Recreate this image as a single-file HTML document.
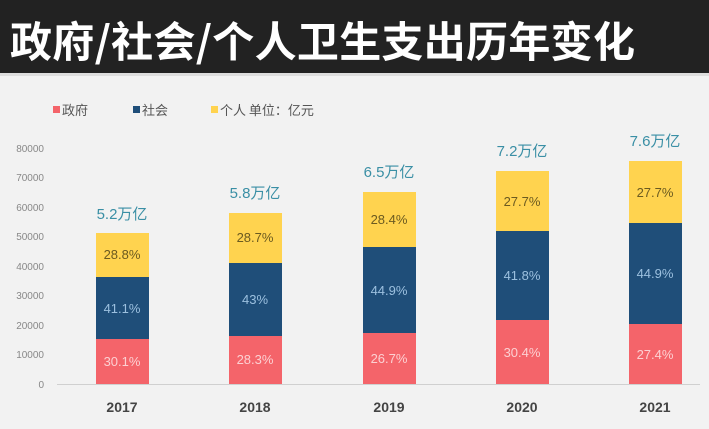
<!DOCTYPE html>
<html><head><meta charset="utf-8"><style>
body{margin:0;width:709px;height:424px;background:#f2f2f2;overflow:hidden;font-family:"Liberation Sans","Noto Sans CJK SC",sans-serif;}
</style></head><body>
<svg width="709" height="424" xmlns="http://www.w3.org/2000/svg" font-family="Liberation Sans, Noto Sans CJK SC, sans-serif">
<rect x="0" y="0" width="709" height="73" fill="#222"/>
<rect x="0" y="73" width="709" height="3" fill="#ddd"/>
<text x="10" y="57" font-size="42" fill="#fff" font-weight="bold" textLength="625" lengthAdjust="spacing" font-family="Noto Sans CJK SC, sans-serif">政府/社会/个人卫生支出历年变化</text>
<g font-size="13" fill="#555" font-family="Noto Sans CJK SC, sans-serif">
<rect x="53" y="106" width="7" height="7" fill="#f4646a"/><text x="62" y="115">政府</text>
<rect x="133" y="106" width="7" height="7" fill="#1f4e79"/><text x="142" y="115">社会</text>
<rect x="211" y="106" width="7" height="7" fill="#ffd34f"/><text x="220" y="115">个人 单位：亿元</text>
</g>
<g font-size="10" fill="#888" text-anchor="end">
<text x="44" y="388">0</text><text x="44" y="358">10000</text><text x="44" y="329">20000</text><text x="44" y="299">30000</text><text x="44" y="270">40000</text><text x="44" y="240">50000</text><text x="44" y="211">60000</text><text x="44" y="181">70000</text><text x="44" y="152">80000</text>
</g>
<line x1="57" y1="384.5" x2="700" y2="384.5" stroke="#d0d0d0"/>
<g font-size="13" text-anchor="middle">
<rect x="96" y="233" width="53" height="44" fill="#ffd34f"/><rect x="96" y="277" width="53" height="62" fill="#1f4e79"/><rect x="96" y="339" width="53" height="45" fill="#f4646a"/>
<text x="122" y="259" fill="#6b5a20">28.8%</text><text x="122" y="313" fill="#9cc0df">41.1%</text><text x="122" y="366" fill="#fcd0d2">30.1%</text>
<text x="122" y="219" fill="#3a8fa5" font-size="15">5.2万亿</text><text x="122" y="412" fill="#444" font-size="14" font-weight="bold">2017</text>
<rect x="229" y="213" width="53" height="50" fill="#ffd34f"/><rect x="229" y="263" width="53" height="73" fill="#1f4e79"/><rect x="229" y="336" width="53" height="48" fill="#f4646a"/>
<text x="255" y="242" fill="#6b5a20">28.7%</text><text x="255" y="304" fill="#9cc0df">43%</text><text x="255" y="364" fill="#fcd0d2">28.3%</text>
<text x="255" y="198" fill="#3a8fa5" font-size="15">5.8万亿</text><text x="255" y="412" fill="#444" font-size="14" font-weight="bold">2018</text>
<rect x="363" y="192" width="53" height="55" fill="#ffd34f"/><rect x="363" y="247" width="53" height="86" fill="#1f4e79"/><rect x="363" y="333" width="53" height="51" fill="#f4646a"/>
<text x="389" y="224" fill="#6b5a20">28.4%</text><text x="389" y="295" fill="#9cc0df">44.9%</text><text x="389" y="363" fill="#fcd0d2">26.7%</text>
<text x="389" y="177" fill="#3a8fa5" font-size="15">6.5万亿</text><text x="389" y="412" fill="#444" font-size="14" font-weight="bold">2019</text>
<rect x="496" y="171" width="53" height="60" fill="#ffd34f"/><rect x="496" y="231" width="53" height="89" fill="#1f4e79"/><rect x="496" y="320" width="53" height="64" fill="#f4646a"/>
<text x="522" y="206" fill="#6b5a20">27.7%</text><text x="522" y="280" fill="#9cc0df">41.8%</text><text x="522" y="357" fill="#fcd0d2">30.4%</text>
<text x="522" y="156" fill="#3a8fa5" font-size="15">7.2万亿</text><text x="522" y="412" fill="#444" font-size="14" font-weight="bold">2020</text>
<rect x="629" y="161" width="53" height="62" fill="#ffd34f"/><rect x="629" y="223" width="53" height="101" fill="#1f4e79"/><rect x="629" y="324" width="53" height="60" fill="#f4646a"/>
<text x="655" y="197" fill="#6b5a20">27.7%</text><text x="655" y="278" fill="#9cc0df">44.9%</text><text x="655" y="359" fill="#fcd0d2">27.4%</text>
<text x="655" y="146" fill="#3a8fa5" font-size="15">7.6万亿</text><text x="655" y="412" fill="#444" font-size="14" font-weight="bold">2021</text>
</g>
</svg>
</body></html>
